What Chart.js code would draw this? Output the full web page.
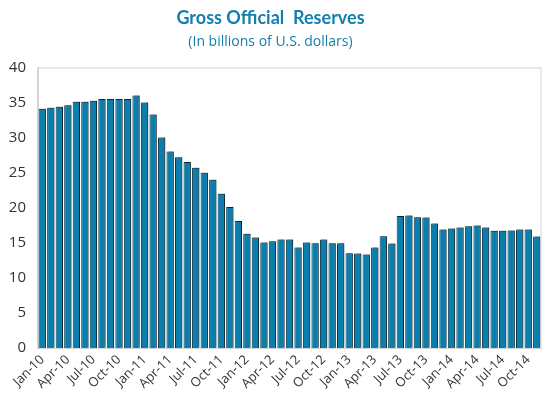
<!DOCTYPE html>
<html lang="en">
<head>
  <meta charset="UTF-8" />
  <title>Gross Official Reserves</title>
  <style>
    html, body { margin: 0; padding: 0; background: #fff; }
    #wrap { width: 543px; height: 411px; }
  </style>
</head>
<body>
  <div id="wrap"><canvas id="reserves"></canvas></div>

  <script src="https://cdn.jsdelivr.net/npm/chart.js"></script>
  <script>
    // months Jan-10 .. Nov-14
    const monthNames = ['Jan', 'Feb', 'Mar', 'Apr', 'May', 'Jun', 'Jul', 'Aug', 'Sep', 'Oct', 'Nov', 'Dec'];
    const years = ['10', '11', '12', '13', '14'];
    const months = [];
    years.forEach(y => monthNames.forEach(m => months.push(m + '-' + y)));
    months.length = 59;

    // reserves, billions of US dollars
    const reserves = [
      34.1, 34.25, 34.4, 34.6, 35.1, 35.1, 35.25, 35.5, 35.5, 35.5, 35.5, 36.0,
      35.0, 33.3, 30.0, 28.0, 27.2, 26.5, 25.7, 25.0, 24.0, 22.0, 20.1, 18.1,
      16.3, 15.75, 15.05, 15.2, 15.47, 15.47, 14.33, 15.04, 14.94, 15.47, 14.94, 14.94,
      13.52, 13.47, 13.33, 14.33, 15.94, 14.9, 18.83, 18.88, 18.64, 18.6, 17.74, 16.89,
      17.03, 17.17, 17.36, 17.46, 17.17, 16.7, 16.7, 16.75, 16.89, 16.89, 15.89
    ];

    const yTicks = [0, 5, 10, 15, 20, 25, 30, 35, 40];

    const titleColor = '#137fad';

    // light box round the plot area + soft shadow under bars
    const frame = {
      id: 'frame',
      beforeDatasetsDraw(chart) {
        const ctx = chart.ctx;
        ctx.save();
        ctx.shadowColor = 'rgba(0,0,0,0.35)';
        ctx.shadowOffsetX = 1.5;
        ctx.shadowOffsetY = -1;
        ctx.shadowBlur = 0;
      },
      afterDatasetsDraw(chart) {
        chart.ctx.restore();
        const { left, top, right, bottom } = chart.chartArea;
        const ctx = chart.ctx;
        ctx.save();
        ctx.strokeStyle = '#d4d4d4';
        ctx.lineWidth = 1;
        ctx.strokeRect(left - 0.5, top + 0.5, right - left + 0.5, bottom - top);
        ctx.restore();
      }
    };

    new Chart(document.getElementById('reserves'), {
      type: 'bar',
      data: {
        labels: months,
        datasets: [{
          data: reserves,
          backgroundColor: '#0a7fae',
          borderColor: '#0b3548',
          borderWidth: 1,
          categoryPercentage: 1,
          barPercentage: 0.86
        }]
      },
      options: {
        responsive: true,
        maintainAspectRatio: false,
        animation: false,
        layout: { padding: { left: 0, right: 2, top: 0, bottom: 0 } },
        plugins: {
          legend: { display: false },
          tooltip: { enabled: false },
          title: {
            display: true,
            text: 'Gross Official  Reserves',
            color: titleColor,
            font: { family: 'Lato', size: 18, weight: 'bold' },
            padding: { top: 7, bottom: 5 }
          },
          subtitle: {
            display: true,
            text: '(In billions of U.S. dollars)',
            color: titleColor,
            font: { family: 'Open Sans', size: 14 },
            padding: { top: 0, bottom: 17 }
          }
        },
        scales: {
          x: {
            grid: { display: false, drawTicks: false },
            border: { color: '#bfbfbf', width: 1 },
            ticks: {
              autoSkip: false,
              maxRotation: 45,
              minRotation: 45,
              padding: 4,
              color: '#333',
              font: { family: 'Open Sans', size: 13 },
              callback: (v, i) => (i % 3 === 0 ? months[i] : '')
            },
            afterFit: s => { s.height = 63; s.paddingRight = 0; s.paddingLeft = 0; }
          },
          y: {
            min: 0,
            max: 40,
            afterBuildTicks: s => { s.ticks = yTicks.map(v => ({ value: v })); },
            grid: { display: false, drawTicks: false },
            border: { color: '#d4d4d4' },
            ticks: {
              padding: 12,
              color: '#333',
              font: { family: 'Open Sans', size: 15 }
            },
            afterFit: s => { s.width = 38; }
          }
        }
      },
      plugins: [frame]
    });
  </script>
</body>
</html>
